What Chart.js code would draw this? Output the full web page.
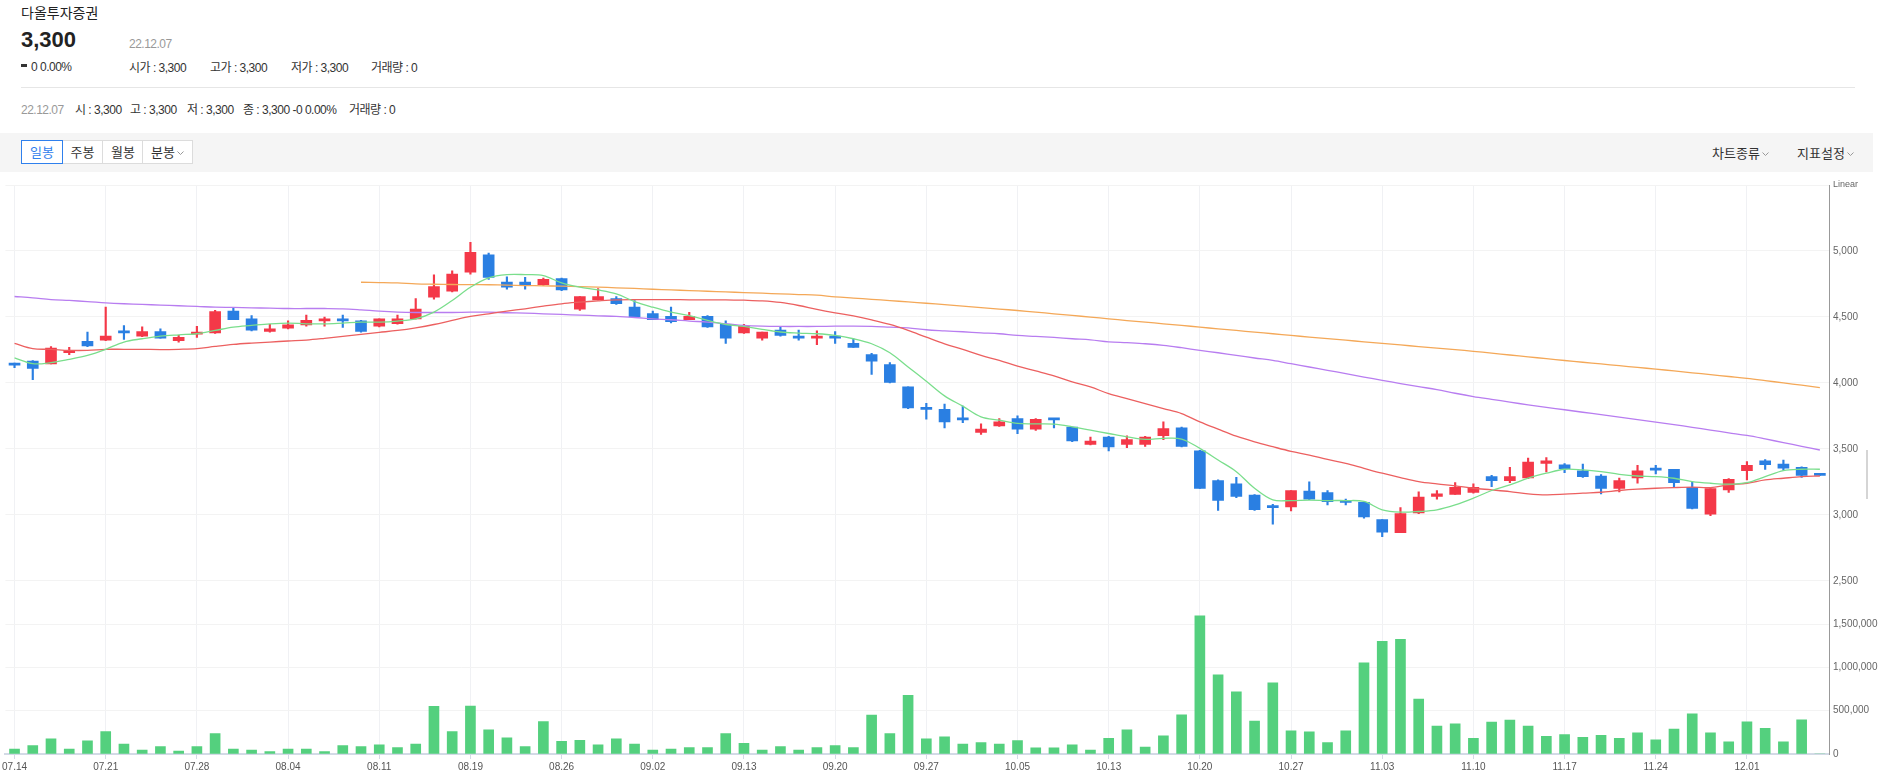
<!DOCTYPE html>
<html lang="ko">
<head>
<meta charset="utf-8">
<title>다올투자증권</title>
<script src="https://cdn.jsdelivr.net/npm/chart.js@4.4.1/dist/chart.umd.min.js"></script>
<style>
  html, body { margin: 0; padding: 0; background: #fff; }
  body { width: 1881px; height: 777px; position: relative; overflow: hidden;
         font-family: "Liberation Sans", "Noto Sans CJK KR", sans-serif; color: #333; }
  .t { position: absolute; white-space: nowrap; line-height: 1; }
  .s { font-size: 12px; letter-spacing: -0.5px; }
  .kr { font-family: "Noto Sans CJK KR", sans-serif; }
  .gray { color: #999; }
  .btn { position: absolute; top: 140px; height: 22px; border: 1px solid #dcdcdc; background: #fff;
         font-family: "Noto Sans CJK KR", sans-serif; font-size: 13px; line-height: 22px; text-align: center; color: #333; }
  .btn.on { border-color: #2f80ed; color: #2f80ed; z-index: 2; }
  .chev { display: inline-block; width: 7px; height: 4px; margin-left: 2px; vertical-align: 2px; }
</style>
</head>
<body>
<div class="t kr" style="left:21px;top:5px;font-size:14px;color:#222;">다올투자증권</div>
<div class="t" style="left:21px;top:29px;font-size:22px;font-weight:bold;color:#222;">3,300</div>
<div class="t gray s" style="left:129px;top:38px;">22.12.07</div>
<div style="position:absolute;left:21px;top:64px;width:6px;height:3px;background:#333;"></div>
<div class="t s" style="left:31px;top:61px;">0 0.00%</div>
<div class="t s" style="left:129px;top:62px;">시가 : 3,300</div>
<div class="t s" style="left:210px;top:62px;">고가 : 3,300</div>
<div class="t s" style="left:291px;top:62px;">저가 : 3,300</div>
<div class="t s" style="left:371px;top:62px;">거래량 : 0</div>
<div style="position:absolute;left:21px;top:87px;width:1834px;height:1px;background:#e6e6e6;"></div>
<div class="t gray s" style="left:21px;top:104px;">22.12.07</div>
<div class="t s" style="left:75px;top:104px;">시 : 3,300</div>
<div class="t s" style="left:130px;top:104px;">고 : 3,300</div>
<div class="t s" style="left:187px;top:104px;">저 : 3,300</div>
<div class="t s" style="left:243px;top:104px;">종 : 3,300 -0 0.00%</div>
<div class="t s" style="left:349px;top:104px;">거래량 : 0</div>

<div style="position:absolute;left:0;top:133px;width:1873px;height:39px;background:#f5f5f5;"></div>
<div class="btn on" style="left:21px;width:40px;">일봉</div>
<div class="btn" style="left:61px;width:41px;">주봉</div>
<div class="btn" style="left:102px;width:40px;">월봉</div>
<div class="btn" style="left:142px;width:49px;">분봉<svg class="chev" viewBox="0 0 7 4"><polyline points="0.5,0.5 3.5,3.5 6.5,0.5" fill="none" stroke="#999" stroke-width="1"/></svg></div>
<div class="t kr" style="left:1712px;top:146px;font-size:13px;">차트종류<svg class="chev" viewBox="0 0 7 4"><polyline points="0.5,0.5 3.5,3.5 6.5,0.5" fill="none" stroke="#999" stroke-width="1"/></svg></div>
<div class="t kr" style="left:1797px;top:146px;font-size:13px;">지표설정<svg class="chev" viewBox="0 0 7 4"><polyline points="0.5,0.5 3.5,3.5 6.5,0.5" fill="none" stroke="#999" stroke-width="1"/></svg></div>

<canvas id="c" width="1881" height="602" style="position:absolute;left:0;top:175px;width:1881px;height:602px;"></canvas>
<div style="position:absolute;left:1866px;top:450px;width:2px;height:49px;background:#d5d5d5;"></div>

<script>
// 일봉 22.07.14 ~ 22.12.07
var dates = ['07.14','07.15','07.18','07.19','07.20','07.21','07.22','07.25','07.26','07.27',
  '07.28','07.29','08.01','08.02','08.03','08.04','08.05','08.08','08.09','08.10',
  '08.11','08.12','08.16','08.17','08.18','08.19','08.22','08.23','08.24','08.25',
  '08.26','08.29','08.30','08.31','09.01','09.02','09.05','09.06','09.07','09.08',
  '09.13','09.14','09.15','09.16','09.19','09.20','09.21','09.22','09.23','09.26',
  '09.27','09.28','09.29','09.30','10.04','10.05','10.06','10.07','10.11','10.12',
  '10.13','10.14','10.17','10.18','10.19','10.20','10.21','10.24','10.25','10.26',
  '10.27','10.28','10.31','11.01','11.02','11.03','11.04','11.07','11.08','11.09',
  '11.10','11.11','11.14','11.15','11.16','11.17','11.18','11.21','11.22','11.23',
  '11.24','11.25','11.28','11.29','11.30','12.01','12.02','12.05','12.06','12.07'];

var openP = [4150,4165,4145,4230,4315,4325,4390,4355,4390,4320,
  4370,4380,4545,4485,4390,4415,4440,4470,4485,4470,
  4430,4450,4485,4650,4695,4840,4970,4765,4765,4745,
  4790,4560,4630,4640,4575,4525,4505,4480,4505,4445,
  4380,4340,4400,4350,4340,4350,4300,4215,4140,3970,
  3805,3800,3730,3625,3675,3730,3650,3725,3665,3535,
  3590,3535,3535,3600,3660,3485,3260,3235,3150,3065,
  3060,3180,3170,3105,3095,2965,2865,3015,3140,3155,
  3170,3290,3260,3280,3390,3380,3335,3295,3200,3280,
  3350,3345,3210,3005,3190,3335,3410,3385,3360,3300];

var highP = [4150,4170,4275,4270,4385,4575,4435,4425,4410,4360,
  4430,4550,4570,4510,4445,4470,4515,4500,4515,4475,
  4485,4515,4640,4820,4850,5065,4985,4805,4800,4795,
  4795,4655,4715,4655,4625,4545,4575,4535,4510,4470,
  4445,4385,4425,4400,4395,4390,4335,4225,4155,3970,
  3845,3840,3825,3690,3730,3750,3730,3725,3665,3590,
  3595,3600,3595,3705,3665,3490,3265,3285,3155,3080,
  3185,3250,3185,3120,3095,2965,3055,3175,3185,3245,
  3235,3300,3360,3430,3435,3390,3385,3305,3280,3375,
  3375,3345,3250,3200,3275,3405,3420,3415,3365,3300];

var lowP = [4115,4025,4145,4215,4275,4320,4330,4350,4340,4310,
  4345,4375,4480,4395,4385,4410,4430,4430,4420,4385,
  4425,4445,4485,4635,4690,4825,4785,4710,4710,4740,
  4700,4550,4630,4595,4495,4480,4455,4480,4420,4300,
  4375,4325,4355,4325,4290,4300,4270,4065,4000,3805,
  3725,3660,3700,3610,3670,3615,3640,3660,3555,3530,
  3485,3510,3520,3570,3515,3200,3035,3130,3035,2930,
  3030,3115,3075,3075,2975,2835,2865,3010,3120,3155,
  3165,3215,3245,3275,3325,3320,3285,3160,3175,3240,
  3310,3210,3045,2995,3170,3265,3345,3340,3285,3300];

var closeP = [4135,4110,4265,4240,4280,4355,4380,4390,4340,4345,
  4380,4540,4480,4400,4410,4440,4475,4485,4470,4390,
  4485,4485,4560,4730,4825,4990,4800,4725,4745,4785,
  4705,4655,4655,4600,4500,4480,4465,4505,4425,4340,
  4430,4385,4360,4340,4345,4340,4270,4165,4005,3810,
  3800,3705,3720,3650,3705,3650,3725,3720,3560,3560,
  3515,3570,3590,3655,3520,3200,3110,3140,3040,3055,
  3185,3120,3100,3095,2985,2870,3010,3135,3160,3210,
  3210,3260,3290,3400,3410,3350,3290,3200,3260,3335,
  3340,3245,3050,3200,3270,3375,3380,3355,3300,3300];

var volume = [58000,97000,174000,58000,151000,260000,116000,46000,85000,35000,
  85000,236000,58000,46000,27000,58000,58000,27000,97000,85000,
  105000,74000,116000,550000,260000,554000,279000,186000,85000,376000,
  147000,159000,105000,174000,116000,46000,58000,74000,74000,236000,
  124000,46000,85000,46000,74000,97000,74000,450000,236000,678000,
  174000,198000,116000,132000,116000,155000,70000,70000,105000,46000,
  182000,279000,81000,209000,453000,1597000,915000,717000,380000,822000,
  267000,256000,132000,267000,1054000,1302000,1326000,636000,322000,349000,
  182000,368000,391000,322000,205000,225000,194000,217000,182000,244000,
  163000,287000,465000,244000,140000,372000,298000,140000,395000,0];

// 이동평균선
var ma5 = [4190,4146,4154,4179,4209,4255,4310,4335,4355,4365,
  4373,4398,4423,4436,4448,4454,4448,4448,4454,4461,
  4461,4469,4486,4537,4625,4725,4796,4821,4821,4814,
  4758,4726,4705,4675,4617,4574,4537,4511,4474,4443,
  4428,4406,4386,4378,4373,4360,4335,4297,4229,4121,
  4013,3902,3824,3743,3718,3693,3690,3688,3668,3642,
  3617,3592,3572,3580,3575,3504,3416,3328,3202,3114,
  3109,3112,3109,3109,3102,3039,3021,3026,3039,3076,
  3127,3185,3228,3278,3316,3346,3341,3328,3308,3295,
  3290,3278,3253,3240,3233,3245,3290,3336,3346,3346];

var ma20 = [4300,4260,4255,4247,4247,4255,4255,4255,4253,4255,
  4260,4277,4292,4302,4310,4318,4325,4338,4353,4368,
  4383,4398,4418,4443,4474,4504,4524,4544,4562,4582,
  4600,4612,4622,4630,4632,4632,4632,4630,4630,4630,
  4627,4622,4610,4587,4557,4531,4508,4478,4443,4398,
  4347,4297,4254,4209,4171,4128,4091,4053,4008,3970,
  3919,3882,3844,3806,3768,3705,3650,3597,3554,3517,
  3482,3454,3421,3391,3353,3316,3283,3253,3235,3220,
  3202,3190,3177,3160,3152,3157,3165,3172,3185,3195,
  3202,3207,3210,3207,3228,3240,3265,3278,3290,3295];

var ma60 = [4655,4645,4632,4625,4617,4607,4600,4595,4590,4585,
  4580,4574,4572,4569,4567,4564,4564,4564,4562,4554,
  4544,4537,4534,4534,4534,4536,4536,4532,4529,4524,
  4519,4514,4509,4504,4496,4486,4479,4469,4461,4449,
  4436,4430,4428,4428,4428,4430,4430,4428,4423,4418,
  4403,4395,4388,4380,4373,4360,4353,4345,4335,4327,
  4312,4305,4297,4285,4267,4247,4229,4209,4189,4171,
  4146,4121,4096,4071,4045,4020,3995,3972,3950,3922,
  3897,3876,3855,3834,3815,3797,3778,3760,3741,3722,
  3703,3684,3664,3643,3622,3602,3576,3548,3520,3492];

var ma120 = [null,null,null,null,null,null,null,null,null,null,
  null,null,null,null,null,null,null,null,null,4763,
  4761,4758,4751,4748,4746,4745,4744,4741,4738,4736,
  4733,4730,4726,4721,4716,4710,4705,4700,4695,4690,
  4685,4680,4675,4670,4665,4652,4643,4634,4624,4614,
  4604,4593,4582,4571,4560,4549,4537,4524,4512,4499,
  4486,4473,4461,4448,4436,4423,4410,4398,4385,4373,
  4360,4348,4336,4324,4312,4300,4288,4276,4264,4252,
  4240,4226,4212,4198,4184,4170,4157,4144,4131,4118,
  4105,4091,4077,4063,4049,4035,4018,4000,3983,3965];

var RED = 'rgb(244,56,72)';
var BLUE = 'rgb(42,127,226)';
var tickFont = "'Liberation Sans Narrow', 'Liberation Sans', sans-serif";

var candleColor = closeP.map(function (c, i) { return c > openP[i] ? RED : BLUE; });
var bodies = openP.map(function (o, i) { return [o, closeP[i]]; });
var wicks = lowP.map(function (l, i) { return [l, highP[i]]; });

function maLine(label, data, color) {
    return {
        type: 'line', label: label, data: data, yAxisID: 'y',
        borderColor: color, borderWidth: 1.3, pointRadius: 0,
        tension: 0.35, fill: false, order: 0
    };
}

var ctx = document.getElementById('c').getContext('2d');
var chart = new Chart(ctx, {
    type: 'bar',
    data: {
        labels: dates,
        datasets: [
            maLine('5', ma5, 'rgb(122,222,140)'),
            maLine('20', ma20, 'rgb(236,96,96)'),
            maLine('60', ma60, 'rgb(184,125,240)'),
            maLine('120', ma120, 'rgb(244,168,88)'),
            { label: 'body', data: bodies, yAxisID: 'y', backgroundColor: candleColor,
              barThickness: 11, minBarLength: 2, grouped: false, order: 1 },
            { label: 'wick', data: wicks, yAxisID: 'y', backgroundColor: candleColor,
              barThickness: 1.5, grouped: false, order: 2 },
            { label: '거래량', data: volume, yAxisID: 'v', backgroundColor: 'rgb(84,208,126)',
              barThickness: 10, grouped: false, order: 3 }
        ]
    },
    options: {
        responsive: false,
        animation: false,
        devicePixelRatio: 1,
        layout: { padding: { left: 4, top: 5, right: 0, bottom: 0 } },
        plugins: { legend: { display: false }, tooltip: { enabled: false } },
        scales: {
            x: {
                offset: true,
                grid: { offset: false, color: '#f0f1f4', tickLength: 5, tickColor: '#d3dae6' },
                border: { color: '#d3dae6', width: 2 },
                ticks: {
                    autoSkip: false, maxRotation: 0, padding: 2, color: '#555',
                    font: { family: tickFont, size: 10 },
                    callback: function (v, i) { return i % 5 === 0 ? dates[i] : null; }
                },
                afterFit: function (s) { s.height = 23; }
            },
            y: {
                position: 'right', stack: 'pane', stackWeight: 398,
                min: 2500, max: 5500,
                grid: { color: '#f3f3f3', drawTicks: false },
                border: { color: '#999' },
                ticks: {
                    stepSize: 500, padding: 4, color: '#666',
                    font: function (c) {
                        return (c.tick && c.tick.value === 5500) ? { family: tickFont, size: 9 } : { family: tickFont, size: 10 };
                    },
                    callback: function (v) { return v === 5500 ? 'Linear' : v.toLocaleString('en-US'); }
                },
                afterFit: function (s) { s.width = 52; }
            },
            v: {
                position: 'right', stack: 'pane', stackWeight: 174,
                min: 0, max: 2000000,
                grid: { color: '#f3f3f3', drawTicks: false },
                border: { color: '#999' },
                ticks: {
                    stepSize: 500000, padding: 4, color: '#666',
                    font: { family: tickFont, size: 10 },
                    callback: function (v) { return v === 2000000 ? null : v.toLocaleString('en-US'); }
                },
                afterFit: function (s) { s.width = 52; }
            }
        }
    }
});
</script>
</body>
</html>
